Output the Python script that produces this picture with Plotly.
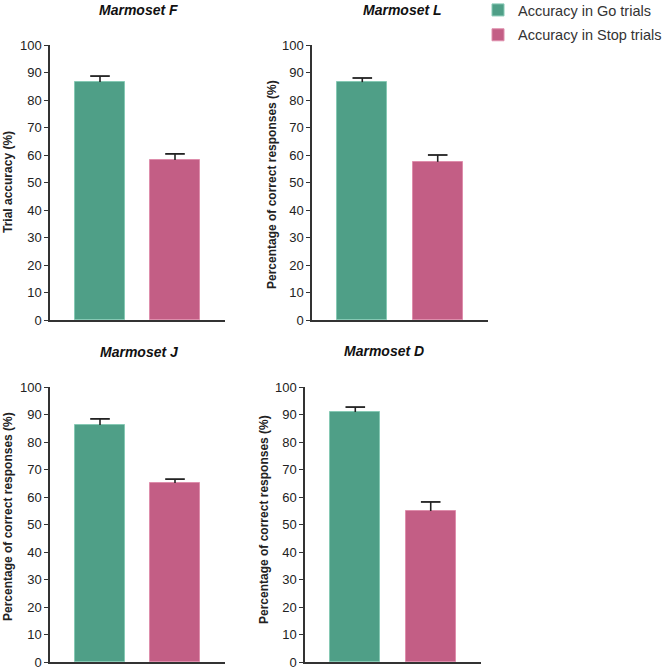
import plotly.graph_objects as go

conditions = ["Go", "Stop"]
series_names = ["Accuracy in Go trials", "Accuracy in Stop trials"]
panels = ["Marmoset F", "Marmoset L", "Marmoset J", "Marmoset D"]
y_titles = ["Trial accuracy (%)", "Percentage of correct responses (%)",
            "Percentage of correct responses (%)", "Percentage of correct responses (%)"]
means = {
    "Marmoset F": [86.5, 58.2],
    "Marmoset L": [86.5, 57.5],
    "Marmoset J": [86.2, 65.1],
    "Marmoset D": [90.9, 54.9],
}
sems = {
    "Marmoset F": [2.2, 2.2],
    "Marmoset L": [1.5, 2.5],
    "Marmoset J": [2.2, 1.4],
    "Marmoset D": [1.8, 3.3],
}
y_ticks = [0, 10, 20, 30, 40, 50, 60, 70, 80, 90, 100]

colors = ["#4f9f87", "#c35e85"]
edge_colors = ["#86c9b4", "#de8eac"]
FONT = "Liberation Sans, Arial, Helvetica, sans-serif"

W, H = 666, 671
# pixel layouts: (x_left, x_right, y_top, y_bottom)
boxes = [(50, 225, 45, 320), (312, 488, 45, 320), (50, 225, 387, 662), (305, 481, 387, 662)]
title_pos = [(138, 10), (402, 10), (139, 352), (384, 351)]
ytitle_pos = [(8, 182), (272, 185), (8, 517), (264, 520)]

fig = go.Figure()
annotations = []
for i, name in enumerate(panels):
    xa = "x" if i == 0 else f"x{i+1}"
    ya = "y" if i == 0 else f"y{i+1}"
    for j, cond in enumerate(conditions):
        fig.add_trace(go.Bar(
            x=[cond], y=[means[name][j]],
            name=series_names[j],
            legendgroup=series_names[j],
            showlegend=(i == 0),
            width=2/3,
            marker=dict(color=colors[j], line=dict(color=edge_colors[j], width=1)),
            error_y=dict(type="data", symmetric=False, array=[sems[name][j]], arrayminus=[0],
                         color="#222222", thickness=1.6, width=0),
            xaxis=xa, yaxis=ya,
        ))
    # error-bar caps
    fig.add_trace(go.Scatter(
        x=conditions, y=[m + s for m, s in zip(means[name], sems[name])],
        mode="markers", showlegend=False, hoverinfo="skip",
        marker=dict(symbol="line-ew", size=14, line=dict(color="#222222", width=1.8)),
        xaxis=xa, yaxis=ya,
    ))
    x0, x1, y0, y1 = boxes[i]
    xdom = [x0 / W, x1 / W]
    ydom = [1 - y1 / H, 1 - y0 / H]
    key = "" if i == 0 else str(i + 1)
    fig.update_layout(**{
        f"xaxis{key}": dict(domain=xdom, anchor=ya, range=[-2/3, 5/3], type="category",
                            categoryorder="array", categoryarray=conditions,
                            showline=True, linecolor="#333333", linewidth=1.5,
                            showticklabels=False, ticks="", showgrid=False, zeroline=False),
        f"yaxis{key}": dict(domain=ydom, anchor=xa, range=[0, 100], tickvals=y_ticks,
                            showline=True, linecolor="#333333", linewidth=1.5,
                            ticks="outside", ticklen=4, tickwidth=1.3, tickcolor="#333333",
                            tickfont=dict(family=FONT, size=13, color="#222222"),
                            showgrid=False, zeroline=False),
    })
    tx, ty = title_pos[i]
    annotations.append(dict(text=f"<b><i>{name}</i></b>", x=tx / W, y=1 - ty / H,
                            xref="paper", yref="paper", showarrow=False,
                            xanchor="center", yanchor="middle",
                            font=dict(family=FONT, size=14, color="#111111")))
    ax, ay = ytitle_pos[i]
    annotations.append(dict(text=f"<b>{y_titles[i]}</b>", x=ax / W, y=1 - ay / H,
                            xref="paper", yref="paper", showarrow=False, textangle=-90,
                            xanchor="center", yanchor="middle",
                            font=dict(family=FONT, size=12, color="#222222")))

fig.update_layout(
    width=W, height=H,
    margin=dict(l=0, r=0, t=0, b=0, autoexpand=False),
    paper_bgcolor="white", plot_bgcolor="white",
    annotations=annotations,
    showlegend=True,
    legend=dict(x=478 / W, y=1.0 + 6 / H, xanchor="left", yanchor="top",
                font=dict(family=FONT, size=14.5, color="#333333"),
                tracegroupgap=3, bgcolor="rgba(0,0,0,0)"),
    bargap=0,
)
fig.write_html("out.html", config={"displayModeBar": False},
               post_script="document.body.style.margin='0';")
